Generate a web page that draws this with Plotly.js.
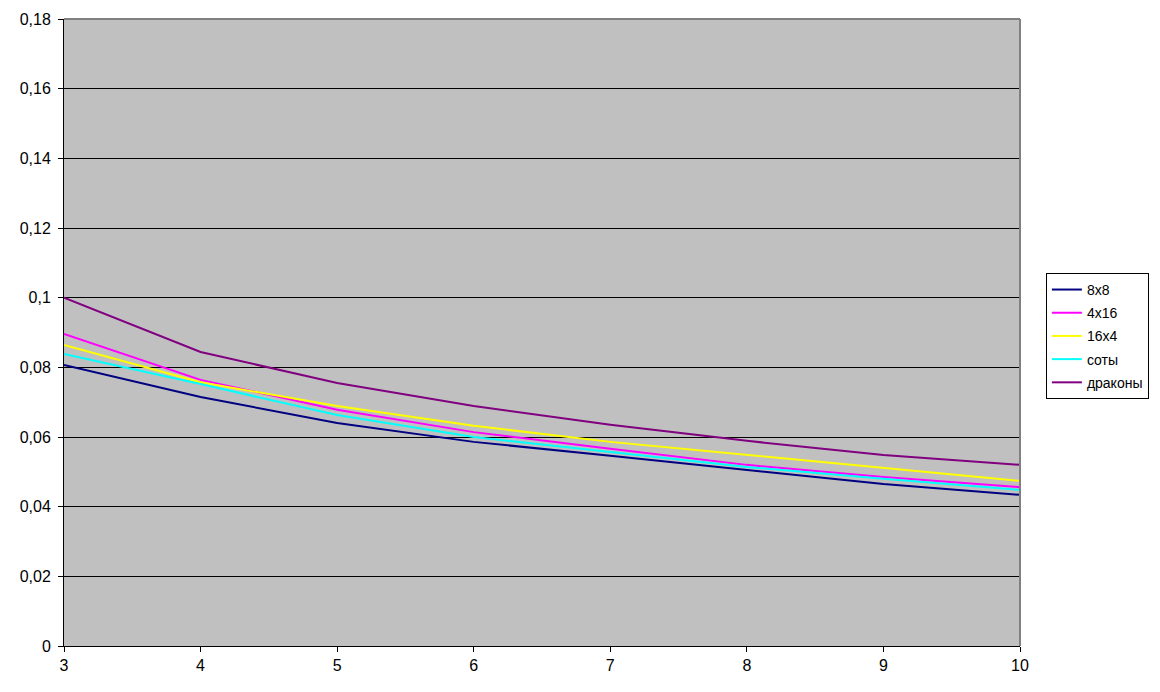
<!DOCTYPE html>
<html>
<head>
<meta charset="utf-8">
<script src="https://cdn.plot.ly/plotly-3.0.1.min.js"></script>
<style>html,body{margin:0;padding:0;background:#fff;}#chart{width:1160px;height:692px;}</style>
</head>
<body>
<div id="chart"></div>
<script>
const xValues = [3, 4, 5, 6, 7, 8, 9, 10];
const seriesNames = ["8x8", "4x16", "16x4", "соты", "драконы"];
const s8x8 = [0.0807, 0.0715, 0.0640, 0.0586, 0.0546, 0.0505, 0.0465, 0.0434];
const s4x16 = [0.0896, 0.0764, 0.0678, 0.0614, 0.0566, 0.0520, 0.0485, 0.0456];
const s16x4 = [0.0864, 0.0757, 0.0689, 0.0632, 0.0586, 0.0548, 0.0511, 0.0474];
const sSoty = [0.0838, 0.0752, 0.0663, 0.0600, 0.0557, 0.0514, 0.0480, 0.0448];
const sDrakony = [0.1000, 0.0844, 0.0755, 0.0689, 0.0635, 0.0589, 0.0548, 0.0520];
const yTickVals = [0, 0.02, 0.04, 0.06, 0.08, 0.1, 0.12, 0.14, 0.16, 0.18];
const yTickText = ["0", "0,02", "0,04", "0,06", "0,08", "0,1", "0,12", "0,14", "0,16", "0,18"];
const xTickVals = [3, 4, 5, 6, 7, 8, 9, 10];

const allSeries = [s8x8, s4x16, s16x4, sSoty, sDrakony];
const colors = ["#000080", "#ff00ff", "#ffff00", "#00ffff", "#800080"];
const FONT = "Liberation Sans, Arial, sans-serif";

const traces = allSeries.map((ys, i) => ({
  x: xValues, y: ys, name: seriesNames[i], type: "scatter", mode: "lines",
  line: {color: colors[i], width: 2}, legendgroup: "g" + i
}));

const layout = {
  width: 1160, height: 692,
  margin: {l: 64, r: 139, t: 19, b: 46, pad: 0},
  paper_bgcolor: "#ffffff",
  plot_bgcolor: "#c0c0c0",
  font: {family: FONT, size: 16, color: "#000"},
  showlegend: true,
  legend: {
    x: 1.026, y: 0.595, xanchor: "left", yanchor: "top",
    bgcolor: "#ffffff", bordercolor: "#000000", borderwidth: 1,
    font: {family: FONT, size: 14, color: "#000"},
    traceorder: "grouped", tracegroupgap: 2
  },
  xaxis: {
    range: [3, 10], tickvals: xTickVals, ticktext: xTickVals.map(String),
    showgrid: false, zeroline: false, showline: true, linecolor: "#000", linewidth: 1,
    ticks: "outside", ticklen: 5, tickcolor: "#000",
    tickfont: {family: FONT, size: 16, color: "#000"}
  },
  yaxis: {
    range: [0, 0.18], tickvals: yTickVals, ticktext: yTickText,
    showgrid: true, gridcolor: "#000000", gridwidth: 1,
    zeroline: false, showline: true, linecolor: "#000", linewidth: 1,
    ticks: "outside", ticklen: 5, tickcolor: "#000", ticklabelstandoff: 4,
    tickfont: {family: FONT, size: 16, color: "#000"}
  },
  shapes: [
    {type: "line", xref: "paper", yref: "paper", x0: 0, x1: 1, y0: 1, y1: 1, line: {color: "#808080", width: 2}},
    {type: "line", xref: "paper", yref: "paper", x0: 1, x1: 1, y0: 0, y1: 1, line: {color: "#808080", width: 2}}
  ]
};

Plotly.newPlot("chart", traces, layout, {displayModeBar: false, staticPlot: true});
</script>
</body>
</html>
